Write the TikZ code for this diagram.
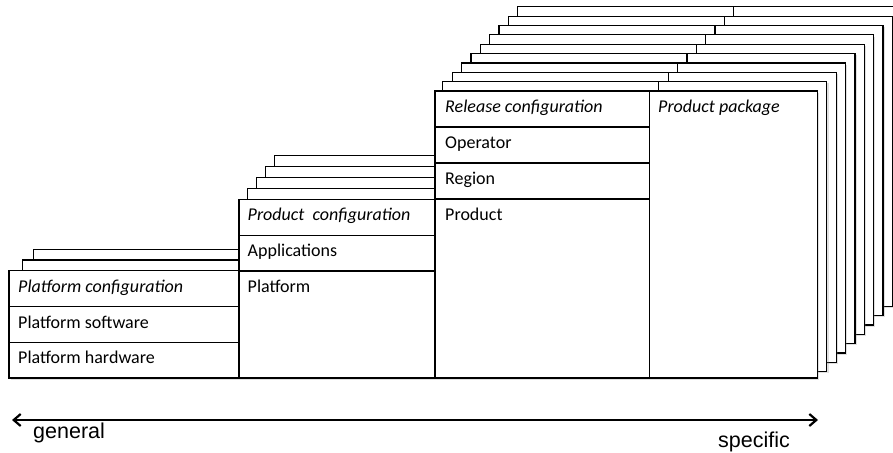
\documentclass[tikz,border=0pt]{standalone}
\usepackage{fontspec}
\setmainfont{Carlito}
\newfontfamily\arialfont{Liberation Sans}
\usetikzlibrary{arrows.meta,shadows}
\tikzset{
  card/.style={draw=black, fill=white, line width=1.2pt,
    drop shadow={opacity=0.25, shadow xshift=1.8pt, shadow yshift=-1.8pt}},
  rule/.style={draw=black, line width=1.2pt},
  lbl/.style={anchor=base west, inner sep=0pt, font=\fontsize{18}{21}\selectfont},
  ilbl/.style={lbl, font=\fontsize{18}{21}\selectfont\itshape},
  axis/.style={draw=black, line width=1.4pt,
    {Straight Barb[length=7pt,width=12pt,line width=2.2pt]}-{Straight Barb[length=7pt,width=12pt,line width=2.2pt]}},
  axlbl/.style={anchor=base west, inner sep=0pt, font=\arialfont\fontsize{21.5}{25}\selectfont}
}
\begin{document}
\begin{tikzpicture}[x=1pt,y=-1pt]
\useasboundingbox (0,0) rectangle (893,452);
\clip (0,0) rectangle (893,452);
% release / package stack layers
\foreach \k in {9,...,1}{
  \path[card] (433.5+9.35*\k, 91-9.35*\k) rectangle ++(384,290);
  \draw[rule] (649.5+9.35*\k, 91-9.35*\k) -- ++(0,290);
}
% product stack layers
\foreach \k in {4,...,1}{
  \path[card] (238.5+9*\k, 199.5-11*\k) rectangle ++(196,179);
}
% platform stack layers
\path[card] (33.5,249.5) rectangle ++(230,108);
\path[card] (22.5,260) rectangle ++(230,108);
% platform front
\path[card] (9,270.5) rectangle (239,378);
\draw[rule] (9,306.5) -- (239,306.5);
\draw[rule] (9,342.5) -- (239,342.5);
% product front
\path[card] (239,199.5) rectangle (435,378);
\draw[rule] (239,235.5) -- (435,235.5);
\draw[rule] (239,271) -- (435,271);
% release front
\path[card] (435,91) rectangle (817.5,378);
\draw[rule] (649.5,91) -- (649.5,378);
\draw[rule] (435,127) -- (649.5,127);
\draw[rule] (435,163) -- (649.5,163);
\draw[rule] (435,199) -- (649.5,199);
% labels
\node[ilbl] (pfc) at (18,292) {Platform configuration};
\node[lbl] (pfs) at (18,328) {Platform software};
\node[lbl] (pfh) at (18,363.5) {Platform hardware};
\node[ilbl] (prc) at (247.5,220.5) {Product\ \ configuration};
\node[lbl] (app) at (247.5,256) {Applications};
\node[lbl] (plf) at (247.5,292) {Platform};
\node[ilbl] (rlc) at (445,112) {Release configuration};
\node[lbl] (opr) at (445,148) {Operator};
\node[lbl] (rgn) at (445,184) {Region};
\node[lbl] (prd) at (445,220) {Product};
\node[ilbl] (pkg) at (658,112) {Product package};
% axis
\coordinate (gen) at (12,420);
\coordinate (spc) at (818,420);
\draw[axis] (gen) -- (spc);
\node[axlbl] (genl) at (33,438) {general};
\node[axlbl] (spcl) at (718,447) {specific};
\end{tikzpicture}
\end{document}
